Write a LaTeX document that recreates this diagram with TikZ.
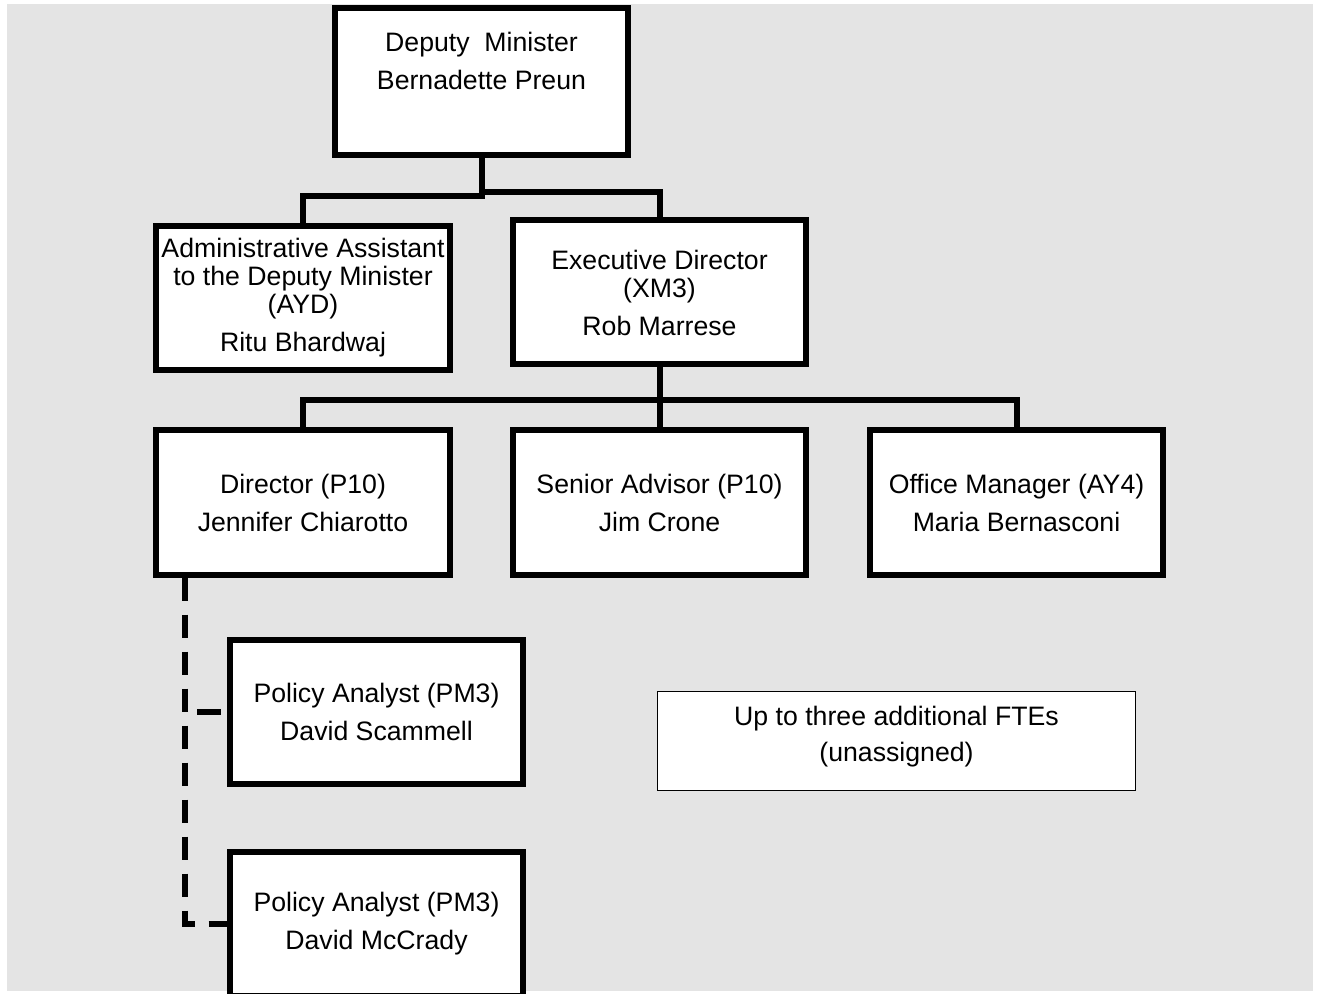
\documentclass[tikz,border=0pt]{standalone}
\usepackage{fontspec}
\setmainfont{Liberation Sans}
\definecolor{bggray}{RGB}{228,228,228}

\begin{document}
\begin{tikzpicture}[
		x=0.75pt, y=-0.75pt,
		post/.style={draw, line width=4.5pt, fill=white, minimum width=220pt, minimum height=108pt, align=center, font=\fontsize{20}{21}\selectfont},
		link/.style={line width=4.5pt},
		dashlink/.style={line width=4.5pt, dash pattern=on 17.25pt off 10.5pt},
	]
	\clip (0,0) rectangle (1317,994);
	\fill[white] (0,0) rectangle (1317,994);
	\fill[bggray] (7,4) rectangle (1313,991);

	\node[post, minimum height=110pt] (dm) at (481.5,81.5) {Deputy\ \ Minister\\[7.5pt]Bernadette Preun\\[10.5pt]\mbox{}};
	\node[post] (aa) at (303,298) {Administrative Assistant\\to the Deputy Minister\\(AYD)\\[7.5pt]Ritu Bhardwaj};
	\node[post] (ed) at (659.5,292.5) {Executive Director\\(XM3)\\[7.5pt]Rob Marrese};

	\node[post] (dir) at (303,502.5) {Director (P10)\\[7.5pt]Jennifer Chiarotto};
	\node[post] (sa) at (659.5,502.5) {Senior Advisor (P10)\\[7.5pt]Jim Crone};
	\node[post] (om) at (1016.5,502.5) {Office Manager (AY4)\\[7.5pt]Maria Bernasconi};

	\node[post] (pa1) at (376.5,712) {Policy Analyst (PM3)\\[7.5pt]David Scammell};
	\node[post] (pa2) at (376.5,924) {Policy Analyst (PM3)\\[7.5pt]David McCrady};
	\node[post, line width=0.9pt, minimum width=358.5pt, minimum height=74.25pt] (fte) at (896.5,741) {Up to three additional FTEs\\[6pt](unassigned)\\[-10.5pt]\mbox{}};

	\draw[link] (dm.south) -- ++(0,38.5) -| (aa.north);
	\draw[link] (dm.south) -- ++(0,34) -| (ed.north);
	\draw[link] (ed.south) -- ++(0,33) -| (dir.north);
	\draw[link] (ed.south) -- (sa.north);
	\draw[link] (ed.south) -- ++(0,33) -| (om.north);

	\coordinate (dtop) at ([xshift=23.75pt]dir.south west);
	\draw[dashlink] (dtop) |- (pa2.west);
	\draw[link, dash pattern=on 0pt off 9pt on 18pt off 20pt] (dtop |- pa1.west) -- (pa1.west);
\end{tikzpicture}
\end{document}
